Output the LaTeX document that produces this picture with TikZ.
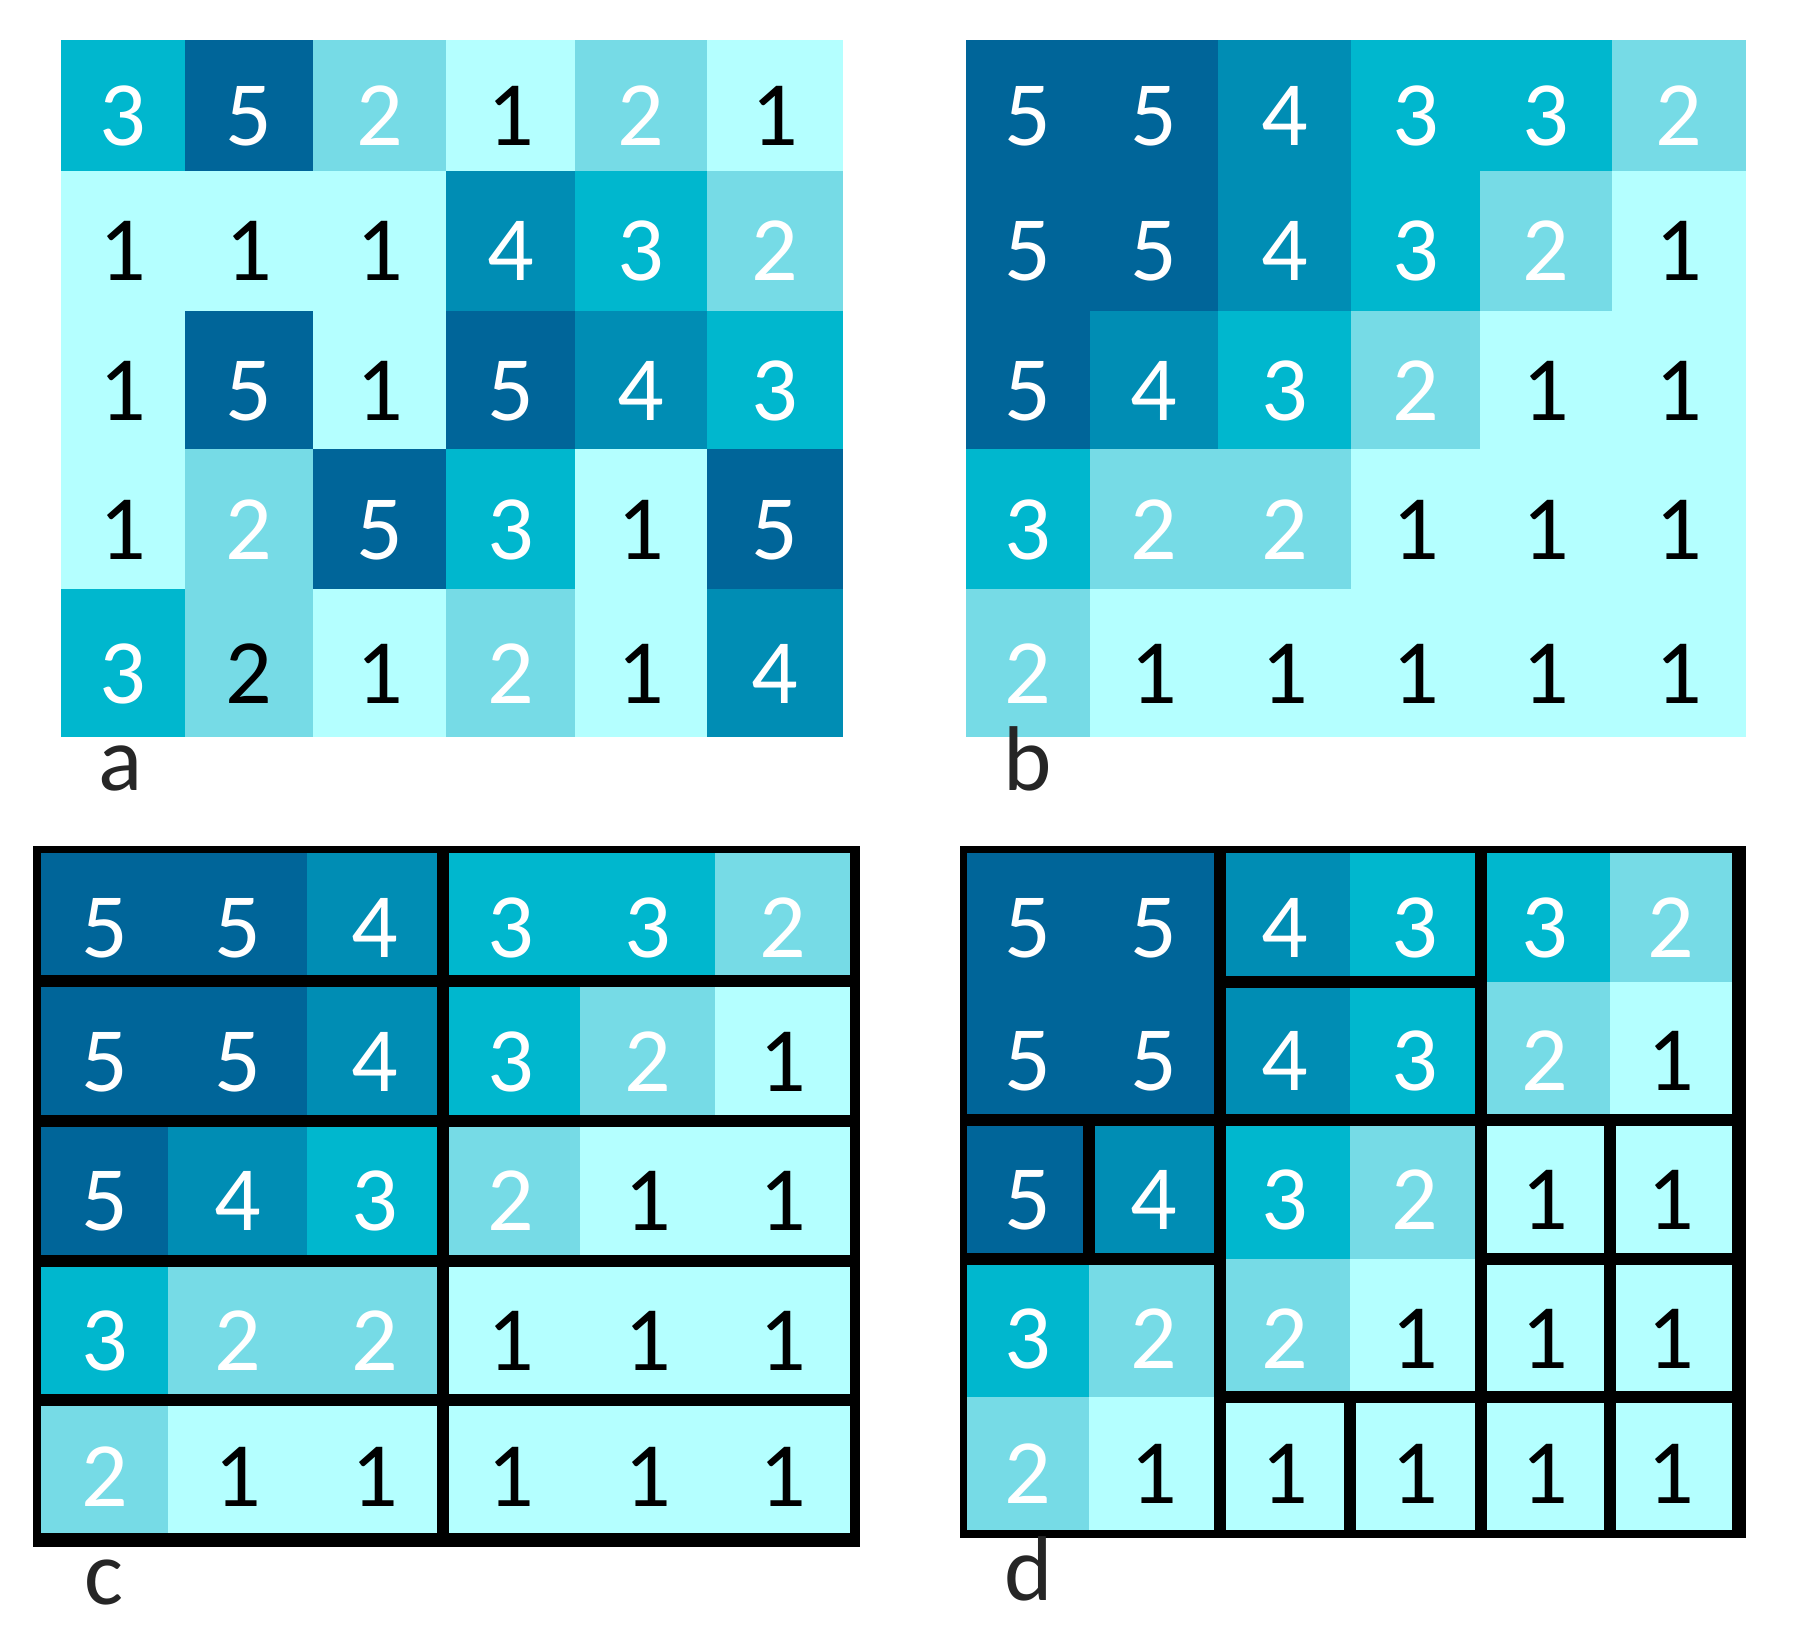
\documentclass[tikz,border=0pt]{standalone}
\usepackage{fontspec}
\setmainfont{Carlito}
\definecolor{v1}{RGB}{180,255,255}
\definecolor{v2}{RGB}{118,219,230}
\definecolor{v3}{RGB}{0,183,206}
\definecolor{v4}{RGB}{0,141,180}
\definecolor{v5}{RGB}{0,101,153}
\colorlet{t1}{black}
\colorlet{t2}{white}
\colorlet{t3}{white}
\colorlet{t4}{white}
\colorlet{t5}{white}
\tikzset{
  digit/.style={font=\fontsize{92}{92}\selectfont, anchor=base, inner sep=0pt},
  lab/.style={font=\fontsize{92}{92}\selectfont, anchor=base, inner sep=0pt, text=black!85},
  divline/.style={line width=12pt, line cap=rect, draw=black},
  a-4-1/.style={text=black}
}
\def\AX{{61,185,313,446,575,707,843}}
\def\BX{{966,1090,1218,1351,1480,1612,1746}}
\def\ABY{{40,171,311,449,589,737}}
\def\CX{{41,168,307,442.5,580,715,850}}
\def\CY{{853,981,1121,1260.5,1399.5,1533}}
\def\DX{{967,1089,1219.5,1350,1480.5,1609.5,1732}}
\def\DY{{853,981.5,1119.5,1259,1397,1530}}
\def\Adata{{3,5,2,1,2,1},{1,1,1,4,3,2},{1,5,1,5,4,3},{1,2,5,3,1,5},{3,2,1,2,1,4}}
\def\Bdata{{5,5,4,3,3,2},{5,5,4,3,2,1},{5,4,3,2,1,1},{3,2,2,1,1,1},{2,1,1,1,1,1}}
\newcommand\drawpanel[4]{%
  \foreach \row [count=\r from 0] in #4 {
    \foreach \v [count=\c from 0] in \row {
      \pgfmathsetmacro\xa{#2[\c]}
      \pgfmathsetmacro\xb{#2[\c+1]}
      \pgfmathsetmacro\ya{#3[\r]}
      \pgfmathsetmacro\yb{#3[\r+1]}
      \fill[v\v] (\xa,\ya) rectangle (\xb,\yb);
      \node[digit, text=t\v, #1-\r-\c/.try] (#1-\r-\c) at ({(\xa+\xb)/2},{(\ya+\yb)/2+40}) {\v};
    }
  }%
}
\begin{document}
\begin{tikzpicture}[x=1pt,y=-1pt]
\useasboundingbox (0,0) rectangle (1807,1637);
\fill[white] (0,0) rectangle (1807,1637);
% panel a
\drawpanel{a}{\AX}{\ABY}{\Adata}
% panel b
\drawpanel{b}{\BX}{\ABY}{\Bdata}
% panel c
\fill[black] (33,846) rectangle (860,1547);
\drawpanel{c}{\CX}{\CY}{\Bdata}
\draw[divline] (442.5,853) -- (442.5,1533);
\foreach \yy in {981,1121,1260.5,1399.5} { \draw[divline] (41,\yy) -- (850,\yy); }
% panel d
\fill[black] (960,846) rectangle (1746,1538);
\drawpanel{d}{\DX}{\DY}{\Bdata}
\draw[divline] (1219.5,981.5) -- (1480.5,981.5);
\draw[divline] (967,1119.5) -- (1732,1119.5);
\draw[divline] (967,1259) -- (1219.5,1259);
\draw[divline] (1480.5,1259) -- (1732,1259);
\draw[divline] (1219.5,1397) -- (1732,1397);
\draw[divline] (1089,1119.5) -- (1089,1259);
\draw[divline] (1219.5,853) -- (1219.5,1530);
\draw[divline] (1350,1397) -- (1350,1530);
\draw[divline] (1480.5,853) -- (1480.5,1530);
\draw[divline] (1609.5,1119.5) -- (1609.5,1530);
% labels
\node[lab] (la) at (121,790) {a};
\node[lab] (lb) at (1028,790) {b};
\node[lab] (lc) at (104,1604) {c};
\node[lab] (ld) at (1029,1600) {d};
\end{tikzpicture}
\end{document}
